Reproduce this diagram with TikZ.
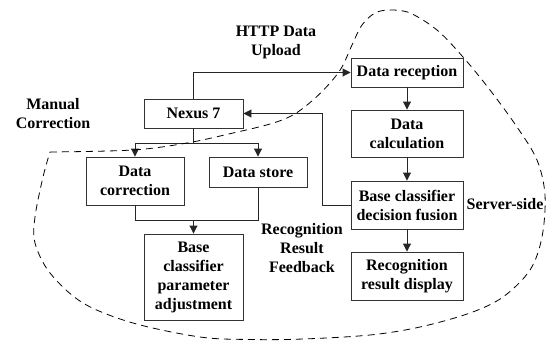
\documentclass[tikz,border=0pt]{standalone}
\usepackage{fontspec}
\setmainfont{Liberation Serif}
\usetikzlibrary{arrows.meta}
\begin{document}
\begin{tikzpicture}[x=1pt,y=-1pt,
  box/.style={draw=black!80,line width=0.9pt,inner sep=0pt,align=center,
    font=\fontsize{16}{19}\selectfont\bfseries},
  lbl/.style={inner sep=0pt,align=center,font=\fontsize{16}{19}\selectfont\bfseries},
  conn/.style={line width=0.9pt,draw=black!85},
  arr/.style={conn,-{Triangle[length=8pt,width=8pt]}}]
\useasboundingbox (0,0) rectangle (547,341);
% boxes
\node[box,minimum width=99pt,minimum height=29pt] (nexus) at (193.5,113.5) {Nexus 7};
\node[box,minimum width=112pt,minimum height=29pt] (recv) at (407,72.5) {Data reception};
\node[box,minimum width=112pt,minimum height=47pt] (calc) at (407,133.5) {Data\\calculation};
\node[box,minimum width=112pt,minimum height=48pt] (fusion) at (407,205) {Base classifier\\decision fusion};
\node[box,minimum width=112pt,minimum height=48pt] (disp) at (407,276) {Recognition\\result display};
\node[box,minimum width=98pt,minimum height=48pt] (corr) at (135,181) {Data\\correction};
\node[box,minimum width=98pt,minimum height=30pt] (store) at (258,172) {Data store};
\node[box,minimum width=99pt,minimum height=86pt] (param) at (193.5,277) {Base\\classifier\\parameter\\adjustment};
% labels
\node[lbl] (http) at (276,42) {HTTP Data\\Upload};
\node[lbl] (manual) at (53,114) {Manual\\Correction};
\node[lbl] (feedback) at (302,248) {Recognition\\Result\\Feedback};
\node[lbl] (server) at (505,204) {Server-side};
% connectors
\draw[arr] (nexus.north) |- (recv.west);
\draw[arr] (recv) -- (calc);
\draw[arr] (calc) -- (fusion);
\draw[arr] (fusion) -- (disp);
\coordinate (fb) at (322,205);
\draw[arr] (fusion.west) -- (fb) |- (nexus.east);
\coordinate (split) at (193.5,143);
\draw[conn] (nexus.south) -- (split);
\draw[arr] (split) -| (corr.north);
\draw[arr] (split) -| (store.north);
\coordinate (merge) at (193.5,220);
\draw[conn] (corr.south) |- (merge);
\draw[conn] (store.south) |- (merge);
\draw[arr] (merge) -- (param.north);
% server-side region
\draw[line width=0.8pt,dash pattern=on 7pt off 5pt] plot[smooth,tension=0.55] coordinates {
 (50,152) (133,150) (187,143) (233,133) (270,124) (293,115) (313,100) (330,83)
 (342,67) (352,45) (362,25) (375,13) (390,10) (410,13) (437,30) (463,57)
 (490,90) (517,127) (537,160) (545,195) (542,237) (530,270) (503,297) (470,313)
 (420,327) (370,335) (303,339) (250,339.5) (200,337) (133,323) (83,303) (50,273)
 (35,243) (35,217) (43,177) (50,152)};
\end{tikzpicture}
\end{document}
